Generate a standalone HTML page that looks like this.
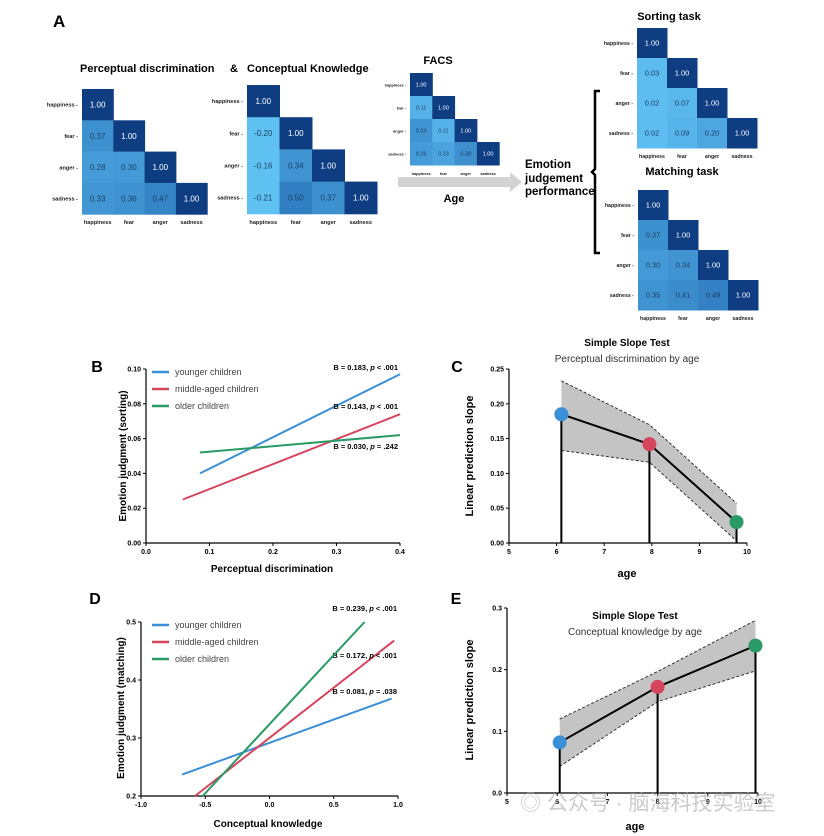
<!DOCTYPE html>
<html><head><meta charset="utf-8"><style>
html,body{margin:0;padding:0;background:#fff;}
svg{display:block;font-family:"Liberation Sans","Noto Sans CJK SC",sans-serif;}
</style></head><body>
<svg id="fig" width="824" height="836" viewBox="0 0 824 836" xmlns="http://www.w3.org/2000/svg">
<text x="53" y="27" font-size="17" font-weight="bold">A</text>
<text x="80" y="72" font-size="11" font-weight="bold">Perceptual discrimination</text>
<text x="230" y="72" font-size="11" font-weight="bold">&amp;</text>
<text x="247" y="72" font-size="11" font-weight="bold">Conceptual Knowledge</text>
<text x="438" y="64" font-size="11" font-weight="bold" text-anchor="middle">FACS</text>
<polygon points="398,177 510,177 510,172 522,182 510,192 510,187 398,187" fill="#d3d3d3"/>
<text x="454" y="202" font-size="11" font-weight="bold" text-anchor="middle">Age</text>
<text x="525" y="168" font-size="11.5" font-weight="bold">Emotion</text>
<text x="525" y="182" font-size="11.5" font-weight="bold">judgement</text>
<text x="525" y="195" font-size="11.5" font-weight="bold">performance</text>
<path d="M600,91 L595,91 L595,169 L592,172 L595,175 L595,253 L600,253" fill="none" stroke="#000" stroke-width="2.5"/>
<text x="669" y="20" font-size="11" font-weight="bold" text-anchor="middle">Sorting task</text>
<text x="682" y="175" font-size="11" font-weight="bold" text-anchor="middle">Matching task</text>
<g id="charts"></g>
<text x="520" y="810" font-size="21" fill="#a8a8a8" fill-opacity="0.6">◎ 公众号 · 脑海科技实验室</text>
</svg>
<script>
// ---- heatmap data ----
const emoLabels = ["happiness","fear","anger","sadness"];
const pdMatrix = [[1.00],[0.37,1.00],[0.28,0.30,1.00],[0.33,0.36,0.47,1.00]];
const ckMatrix = [[1.00],[-0.20,1.00],[-0.16,0.34,1.00],[-0.21,0.50,0.37,1.00]];
const facsMatrix = [[1.00],[0.11,1.00],[0.34,0.11,1.00],[0.29,0.23,0.38,1.00]];
const sortMatrix = [[1.00],[0.03,1.00],[0.02,0.07,1.00],[0.02,0.09,0.20,1.00]];
const matchMatrix = [[1.00],[0.37,1.00],[0.30,0.34,1.00],[0.35,0.41,0.49,1.00]];
// ---- panel B data ----
const bSeries = ["younger children","middle-aged children","older children"];
const bX0 = [0.085,0.058,0.085];
const bY0 = [0.040,0.025,0.052];
const bX1 = [0.400,0.400,0.400];
const bY1 = [0.097,0.074,0.062];
const bXTicks = [0.0,0.1,0.2,0.3,0.4];
const bYTicks = [0.00,0.02,0.04,0.06,0.08,0.10];
const bNotes = ["B = 0.183, p < .001","B = 0.143, p < .001","B = 0.030, p = .242"];
// ---- panel C data ----
const cAges = [6.1,7.95,9.78];
const cSlope = [0.185,0.142,0.030];
const cUpper = [0.233,0.170,0.057];
const cLower = [0.133,0.116,0.003];
const cXTicks = [5,6,7,8,9,10];
const cYTicks = [0.00,0.05,0.10,0.15,0.20,0.25];
// ---- panel D data ----
const dX0 = [-0.68,-0.58,-0.52];
const dY0 = [0.237,0.200,0.200];
const dX1 = [0.95,0.97,0.74];
const dY1 = [0.368,0.468,0.500];
const dXTicks = [-1.0,-0.5,0.0,0.5,1.0];
const dYTicks = [0.2,0.3,0.4,0.5];
const dNotes = ["B = 0.239, p < .001","B = 0.172, p < .001","B = 0.081, p = .038"];
// ---- panel E data ----
const eAges = [6.05,8.0,9.95];
const eSlope = [0.082,0.172,0.239];
const eUpper = [0.120,0.197,0.280];
const eLower = [0.043,0.148,0.198];
const eXTicks = [5,6,7,8,9,10];
const eYTicks = [0.0,0.1,0.2,0.3];

const colors = ["#3b8fd6","#d6455e","#2a9a66"];
const NS = "http://www.w3.org/2000/svg";
const root = document.getElementById("charts");
function mk(tag, attrs, parent, txt){
  const e = document.createElementNS(NS, tag);
  for (const k in attrs) e.setAttribute(k, attrs[k]);
  if (txt !== undefined) e.textContent = txt;
  (parent||root).appendChild(e);
  return e;
}
function lerp(a,b,t){return Math.round(a+(b-a)*t);}
function cellColor(v){
  if (v >= 0.99) return "#0f3d82";
  const t = Math.max(0, Math.min(1, v/0.5));
  return "rgb("+lerp(95,50,t)+","+lerp(192,128,t)+","+lerp(242,195,t)+")";
}
function heatmap(name, m, x, y, cw, ch, fs){
  const g = mk("g", {});
  
  
  for (let r=0;r<4;r++){
    for (let c=0;c<=r;c++){
      const v = m[r][c];
      const rect = mk("rect",{x:x+c*cw,y:y+r*ch,width:cw+0.5,height:ch+0.5,fill:cellColor(v)},g);
      
      
      const t = mk("text",{x:x+c*cw+cw/2,y:y+r*ch+ch/2+fs*0.35,"font-size":fs,"text-anchor":"middle",fill:v>=0.99?"#fff":"#1d3f63"},g,v.toFixed(2));
      
      
    }
    const rl = mk("text",{x:x-4,y:y+r*ch+ch/2+2,"font-size":fs*0.7,"font-weight":"bold","text-anchor":"end",fill:"#222"},g,emoLabels[r]+" -");
    
    
    const cl = mk("text",{x:x+r*cw+cw/2,y:y+4*ch+10,"font-size":fs*0.7,"font-weight":"bold","text-anchor":"middle",fill:"#222"},g,emoLabels[r]);
    
    
  }
}
heatmap("heatmap-perceptual", pdMatrix, 82, 89, 31.3, 31.3, 8);
heatmap("heatmap-conceptual", ckMatrix, 247, 85, 32.5, 32.2, 8);
heatmap("heatmap-facs", facsMatrix, 410, 73, 22.3, 23, 5.5);
heatmap("heatmap-sorting", sortMatrix, 637, 28, 30, 30, 7.5);
heatmap("heatmap-matching", matchMatrix, 638, 190, 30, 30, 7.5);

function axes(name, x0,x1,y0,y1, xmin,xmax,ymin,ymax, xt, yt, xdec, ydec){
  const sx = v => x0 + (v-xmin)/(xmax-xmin)*(x1-x0);
  const sy = v => y0 - (v-ymin)/(ymax-ymin)*(y0-y1);
  const g = mk("g",{});
  
  
  mk("line",{x1:x0,y1:y0,x2:x1,y2:y0,stroke:"#000","stroke-width":1.2},g);
  mk("line",{x1:x0,y1:y0,x2:x0,y2:y1,stroke:"#000","stroke-width":1.2},g);
  xt.forEach(v=>{
    mk("line",{x1:sx(v),y1:y0,x2:sx(v),y2:y0+3,stroke:"#000"},g);
    const t = mk("text",{x:sx(v),y:y0+11,"font-size":7,"font-weight":"bold","text-anchor":"middle"},g,v.toFixed(xdec));
    
    
  });
  yt.forEach(v=>{
    mk("line",{x1:x0-3,y1:sy(v),x2:x0,y2:sy(v),stroke:"#000"},g);
    const t = mk("text",{x:x0-5,y:sy(v)+2.5,"font-size":7,"font-weight":"bold","text-anchor":"end"},g,v.toFixed(ydec));
    
    
  });
  return {sx,sy};
}
function label(txt,x,y,fs,opts){
  const a = Object.assign({x:x,y:y,"font-size":fs,"font-weight":"bold","text-anchor":"middle"},opts||{});
  return mk("text",a,root,txt);
}
function linesPanel(p, X0,Y0,X1,Y1, notes, legY, noteY, noteX){
  for (let i=0;i<3;i++){
    const l = mk("line",{x1:p.sx(X0[i]),y1:p.sy(Y0[i]),x2:p.sx(X1[i]),y2:p.sy(Y1[i]),stroke:colors[i],"stroke-width":2});
    
    
    mk("line",{x1:152,y1:legY[i],x2:169,y2:legY[i],stroke:colors[i],"stroke-width":2.5});
    const lt = mk("text",{x:175,y:legY[i]+3,"font-size":9,fill:"#444"},root,bSeries[i]);
    
    
    const parts = notes[i].split("p");
    const nt = mk("text",{x:noteX,y:noteY[i],"font-size":7.5,"font-weight":"bold","text-anchor":"end"});
    
    
    mk("tspan",{},nt,parts[0]);
    mk("tspan",{"font-style":"italic"},nt,"p");
    mk("tspan",{},nt,parts[1]);
  }
}
// Panel B
const pB = axes("panel-b",146,400,543,369,0,0.4,0,0.10,bXTicks,bYTicks,1,2);
linesPanel(pB,bX0,bY0,bX1,bY1,bNotes,[372,389,406],[370,409,449],398);
label("B",97,372,16);
label("Perceptual discrimination",272,572,10);
label("Emotion judgment (sorting)",0,0,10,{transform:"translate(126,456) rotate(-90)"});

function slopePanel(p, ages, s, up, lo){
  let band = "";
  ages.forEach((a,i)=>{band += (i?"L":"M")+p.sx(a)+","+p.sy(up[i]);});
  for (let i=ages.length-1;i>=0;i--) band += "L"+p.sx(ages[i])+","+p.sy(lo[i]);
  const b = mk("path",{d:band+"Z",fill:"#c4c4c4"});
  
  
  const ud = ages.map((a,i)=>(i?"L":"M")+p.sx(a)+","+p.sy(up[i])).join("");
  const ld = ages.map((a,i)=>(i?"L":"M")+p.sx(a)+","+p.sy(lo[i])).join("");
  mk("path",{d:ud,fill:"none",stroke:"#333","stroke-dasharray":"3,2","stroke-width":1});
  mk("path",{d:ld,fill:"none",stroke:"#333","stroke-dasharray":"3,2","stroke-width":1});
  ages.forEach((a,i)=>{
    mk("line",{x1:p.sx(a),y1:p.sy(s[i]),x2:p.sx(a),y2:p.sy(0),stroke:"#000","stroke-width":2});
  });
  const md = ages.map((a,i)=>(i?"L":"M")+p.sx(a)+","+p.sy(s[i])).join("");
  const ml = mk("path",{d:md,fill:"none",stroke:"#000","stroke-width":2});
  
  
  ages.forEach((a,i)=>{
    const c = mk("circle",{cx:p.sx(a),cy:p.sy(s[i]),r:7,fill:colors[i]});
    
    
  });
}
// Panel C
const pC = axes("panel-c",509,747,543,369,5,10,0,0.25,cXTicks,cYTicks,0,2);
slopePanel(pC,cAges,cSlope,cUpper,cLower);
label("C",457,372,16);
label("Simple Slope Test",627,346,10);
label("Perceptual discrimination by age",627,362,10,{"font-weight":"normal",fill:"#333"});
label("age",627,577,11);
label("Linear prediction slope",0,0,11,{transform:"translate(473,456) rotate(-90)"});

// Panel D
const pD = axes("panel-d",141,398,796,622,-1,1,0.2,0.5,dXTicks,dYTicks,1,1);
linesPanel(pD,dX0,dY0,dX1,dY1,dNotes,[625,642,659],[611,658,694],397);
label("D",95,604,16);
label("Conceptual knowledge",268,827,10);
label("Emotion judgment (matching)",0,0,10,{transform:"translate(124,708) rotate(-90)"});

// Panel E
const pE = axes("panel-e",507,758,793,608,5,10,0,0.3,eXTicks,eYTicks,0,1);
slopePanel(pE,eAges,eSlope,eUpper,eLower);
label("E",456,604,16);
label("Simple Slope Test",635,619,10);
label("Conceptual knowledge by age",635,635,10,{"font-weight":"normal",fill:"#333"});
label("age",635,830,11);
label("Linear prediction slope",0,0,11,{transform:"translate(473,700) rotate(-90)"});
</script>
</body></html>
